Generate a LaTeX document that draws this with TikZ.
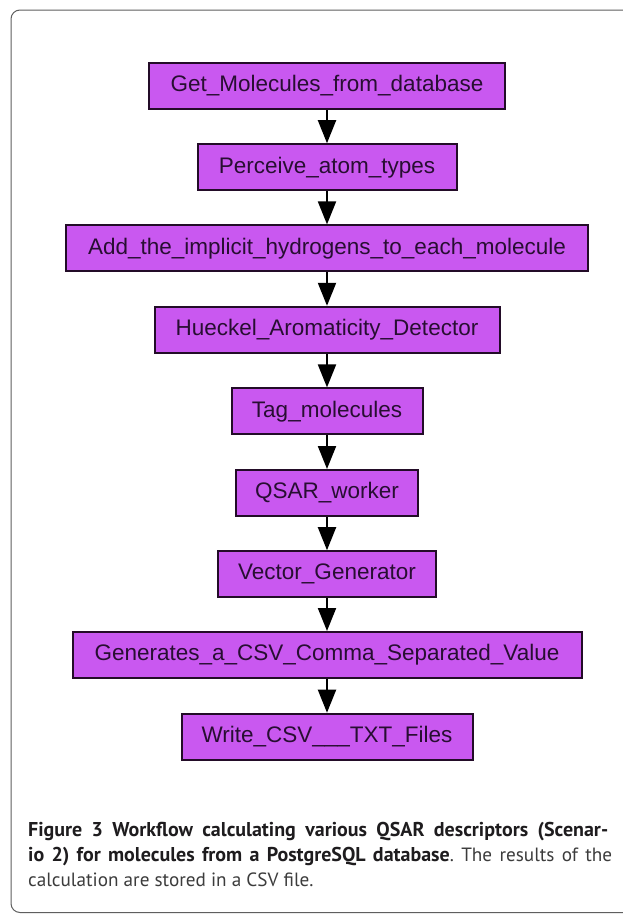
\documentclass[tikz,border=0pt]{standalone}
\usepackage{fontspec}
\setmainfont{Liberation Sans}
\newfontfamily\capfont{PT Sans}
\usetikzlibrary{arrows.meta}
\definecolor{boxfill}{RGB}{201,88,240}
\definecolor{boxline}{RGB}{35,12,40}
\definecolor{boxtext}{RGB}{40,14,50}
\definecolor{framecol}{RGB}{95,95,95}
\definecolor{captext}{RGB}{30,28,30}
\definecolor{capgray}{RGB}{60,60,60}
\newcommand{\capbold}[1]{{\bfseries\fontsize{20}{22}\selectfont #1}}
\begin{document}
\frenchspacing
\begin{tikzpicture}[x=1pt,y=-1pt,
  stepbox/.style={draw=boxline, line width=2pt, fill=boxfill, text=boxtext,
    minimum height=46pt, inner sep=0pt, font=\fontsize{22.5}{24}\selectfont},
  flow/.style={draw=black, line width=2pt, -{Triangle[length=23pt,width=18pt]}},
  capline/.style={anchor=base west, inner sep=0pt, font=\capfont\fontsize{19.2}{22}\selectfont}]
\useasboundingbox (0,0) rectangle (623,914);
\fill[white] (0,0) rectangle (623,914);
\begin{scope}
\clip (0,0) rectangle (623,914);
\draw[framecol, line width=1pt, rounded corners=9pt] (650,10) -- (11,10) -- (11,912.5) -- (650,912.5);
\end{scope}
\node[stepbox, minimum width=356pt] (n1) at (327,86) {Get\_Molecules\_from\_database};
\node[stepbox, minimum width=259pt] (n2) at (327,167.2) {Perceive\_atom\_types};
\node[stepbox, minimum width=522pt] (n3) at (327,248.4) {Add\_the\_implicit\_hydrogens\_to\_each\_molecule};
\node[stepbox, minimum width=345pt] (n4) at (327,329.8) {Hueckel\_Aromaticity\_Detector};
\node[stepbox, minimum width=191pt] (n5) at (327,411.4) {Tag\_molecules};
\node[stepbox, minimum width=182pt] (n6) at (327,493) {QSAR\_worker};
\node[stepbox, minimum width=218pt] (n7) at (327,574.2) {Vector\_Generator};
\node[stepbox, minimum width=509pt] (n8) at (327,655) {Generates\_a\_CSV\_Comma\_Separated\_Value};
\node[stepbox, minimum width=291pt] (n9) at (327,736.7) {Write\_CSV\_\_\_TXT\_Files};
\foreach \a/\b in {n1/n2,n2/n3,n3/n4,n4/n5,n5/n6,n6/n7,n7/n8,n8/n9}
  \draw[flow] (\a) -- (\b);
\node[capline, text=captext] (c1) at (28,836) {\makebox[580pt][s]{\capbold{Figure 3 Workflow calculating various QSAR descriptors (Scenar-}}};
\node[capline] (c2) at (28,861) {\makebox[584pt][s]{\textcolor{captext}{\capbold{io 2) for molecules from a PostgreSQL database}}\textcolor{capgray}{. The results of the}}};
\node[capline, text=capgray] (c3) at (28,886) {calculation are stored in a CSV file.};
\end{tikzpicture}
\end{document}
